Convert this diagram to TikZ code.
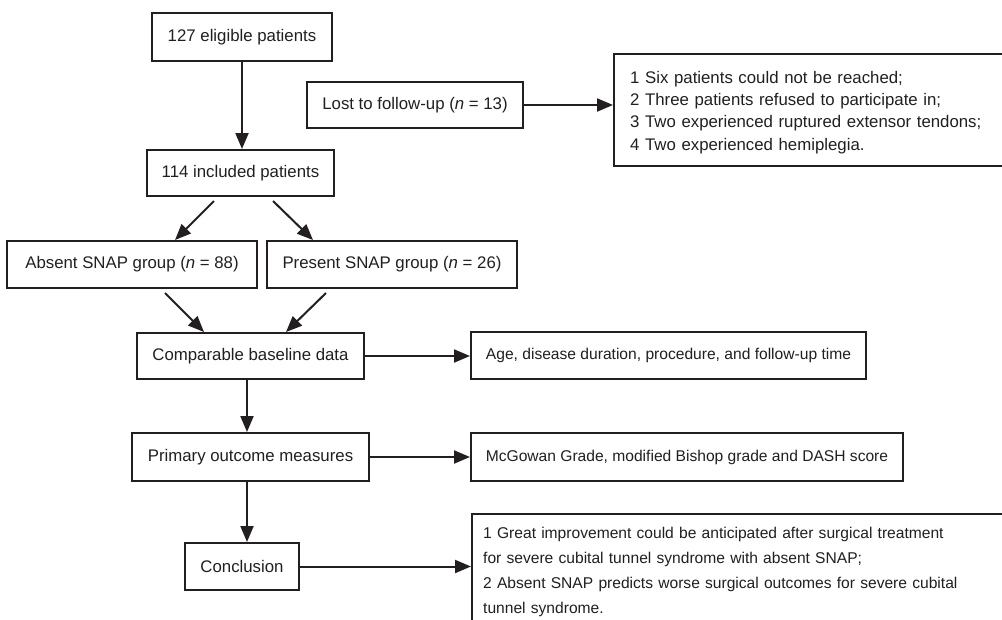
\documentclass[tikz,border=0pt]{standalone}
\usepackage{fontspec}
\setmainfont{Liberation Sans}
\usetikzlibrary{arrows.meta}
\definecolor{ink}{HTML}{231F20}
\begin{document}
\begin{tikzpicture}[x=1pt,y=-1pt,
  box/.style={draw=ink, line width=2pt, inner sep=0pt, text=ink, font=\fontsize{16.8}{22}\selectfont},
  smallfont/.style={font=\fontsize{15.6}{22}\selectfont},
  arr/.style={draw=ink, line width=2pt, -{Triangle[length=16pt,width=13pt]}},
  txt/.style={inner sep=0pt, text=ink, align=left, anchor=base west}]
\useasboundingbox (0,0) rectangle (1002,619);
\clip (0,0) rectangle (1002,619);
\fill[white] (0,0) rectangle (1002,619);

\node[box, minimum width=180pt, minimum height=48pt] (elig) at (242,37) {127 eligible patients};
\node[box, minimum width=216pt, minimum height=46pt] (lost) at (415,105) {Lost to follow-up (\textit{n} = 13)};
\node[box, minimum width=187pt, minimum height=46pt] (incl) at (240.5,173) {114 included patients};
\node[box, minimum width=250pt, minimum height=47pt] (absent) at (132,264.5) {Absent SNAP group (\textit{n} = 88)};
\node[box, minimum width=250pt, minimum height=47pt] (present) at (392,264.5) {Present SNAP group (\textit{n} = 26)};
\node[box, minimum width=227pt, minimum height=46pt] (comp) at (250.5,356) {Comparable baseline data};
\node[box, smallfont, minimum width=395pt, minimum height=47pt] (age) at (668.5,355.5) {Age, disease duration, procedure, and follow-up time};
\node[box, minimum width=237pt, minimum height=48pt] (prim) at (250.5,457) {Primary outcome measures};
\node[box, smallfont, minimum width=432pt, minimum height=48pt] (mcg) at (687,457) {McGowan Grade, modified Bishop grade and DASH score};
\node[box, minimum width=114pt, minimum height=47pt] (concl) at (242,566.5) {Conclusion};

\node[box, anchor=north west, minimum width=440pt, minimum height=112pt] (lostbox) at (613,53) {};
\node[txt, text width=360pt, font=\fontsize{16.8}{22.4}\selectfont] (losttext) at (630,83)
  {1 Six patients could not be reached;\\
   2 Three patients refused to participate in;\\
   3 Two experienced ruptured extensor tendons;\\
   4 Two experienced hemiplegia.};

\node[box, anchor=north west, minimum width=560pt, minimum height=130pt] (conclbox) at (471,513) {};
\node[txt, text width=515pt, font=\fontsize{15.6}{25}\selectfont] (concltext) at (483,538)
  {1 Great improvement could be anticipated after surgical treatment\\
   for severe cubital tunnel syndrome with absent SNAP;\\
   2 Absent SNAP predicts worse surgical outcomes for severe cubital\\
   tunnel syndrome.};

\draw[arr] (elig.south) -- (elig.south |- incl.north);
\draw[arr] (lost.east) -- (lost.east -| lostbox.west);
\draw[arr] ([xshift=-26.5pt,yshift=-4pt]incl.south) -- ([xshift=43pt]absent.north);
\draw[arr] ([xshift=32.5pt,yshift=-4pt]incl.south) -- ([xshift=-79pt]present.north);
\draw[arr] ([xshift=33pt,yshift=-4pt]absent.south) -- ([xshift=-46.5pt]comp.north);
\draw[arr] ([xshift=-66pt,yshift=-4pt]present.south) -- ([xshift=35.5pt]comp.north);
\draw[arr] (comp.east) -- (comp.east -| age.west);
\draw[arr] ([xshift=-3.5pt]comp.south) -- ([xshift=-3.5pt]prim.north);
\draw[arr] (prim.east) -- (prim.east -| mcg.west);
\draw[arr] ([xshift=-3.5pt]prim.south) -- ([xshift=-3.5pt]prim.south |- concl.north);
\draw[arr] (concl.east) -- (concl.east -| conclbox.west);
\end{tikzpicture}
\end{document}
